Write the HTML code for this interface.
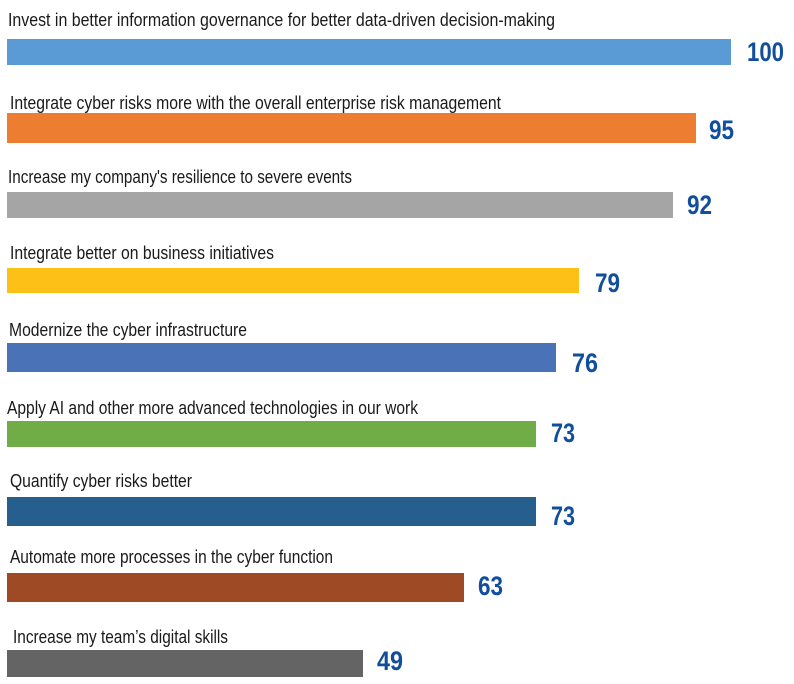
<!DOCTYPE html>
<html>
<head>
<meta charset="utf-8">
<style>
html,body{margin:0;padding:0;background:#fff;}
svg{display:block;}
.l{font-family:"Liberation Sans",sans-serif;font-size:18.5px;fill:#1a1a1a;}
.v{font-family:"Liberation Sans",sans-serif;font-size:26.5px;font-weight:bold;fill:#114e9c;}
</style>
</head>
<body>
<svg width="794" height="684" viewBox="0 0 794 684" xmlns="http://www.w3.org/2000/svg">
<rect x="0" y="0" width="794" height="684" fill="#fff"/>

<text class="l" x="8" y="26" textLength="547" lengthAdjust="spacingAndGlyphs">Invest in better information governance for better data-driven decision-making</text>
<rect x="7" y="39" width="724" height="26" fill="#5b9bd5"/>
<text class="v" x="747" y="61" textLength="37" lengthAdjust="spacingAndGlyphs">100</text>

<text class="l" x="10" y="109" textLength="491" lengthAdjust="spacingAndGlyphs">Integrate cyber risks more with the overall enterprise risk management</text>
<rect x="7" y="113" width="689" height="30" fill="#ed7d31"/>
<text class="v" x="709" y="139" textLength="25" lengthAdjust="spacingAndGlyphs">95</text>

<text class="l" x="8" y="183" textLength="344" lengthAdjust="spacingAndGlyphs">Increase my company's resilience to severe events</text>
<rect x="7" y="192" width="666" height="26" fill="#a5a5a5"/>
<text class="v" x="687" y="214" textLength="25" lengthAdjust="spacingAndGlyphs">92</text>

<text class="l" x="10" y="259" textLength="264" lengthAdjust="spacingAndGlyphs">Integrate better on business initiatives</text>
<rect x="7" y="268" width="572" height="25" fill="#fcc016"/>
<text class="v" x="595" y="292" textLength="25" lengthAdjust="spacingAndGlyphs">79</text>

<text class="l" x="9" y="336" textLength="238" lengthAdjust="spacingAndGlyphs">Modernize the cyber infrastructure</text>
<rect x="7" y="343" width="549" height="29" fill="#4a72b6"/>
<text class="v" x="572" y="372" textLength="26" lengthAdjust="spacingAndGlyphs">76</text>

<text class="l" x="7" y="414" textLength="411" lengthAdjust="spacingAndGlyphs">Apply AI and other more advanced technologies in our work</text>
<rect x="7" y="421" width="529" height="26" fill="#70ad47"/>
<text class="v" x="551" y="442" textLength="24" lengthAdjust="spacingAndGlyphs">73</text>

<text class="l" x="10" y="487" textLength="182" lengthAdjust="spacingAndGlyphs">Quantify cyber risks better</text>
<rect x="7" y="497" width="529" height="29" fill="#265e8e"/>
<text class="v" x="551" y="525" textLength="24" lengthAdjust="spacingAndGlyphs">73</text>

<text class="l" x="10" y="563" textLength="323" lengthAdjust="spacingAndGlyphs">Automate more processes in the cyber function</text>
<rect x="7" y="573" width="457" height="29" fill="#9d4a25"/>
<text class="v" x="478" y="595" textLength="25" lengthAdjust="spacingAndGlyphs">63</text>

<text class="l" x="13" y="643" textLength="215" lengthAdjust="spacingAndGlyphs">Increase my team’s digital skills</text>
<rect x="7" y="650" width="356" height="27" fill="#646464"/>
<text class="v" x="377" y="670" textLength="26" lengthAdjust="spacingAndGlyphs">49</text>
</svg>
</body>
</html>
